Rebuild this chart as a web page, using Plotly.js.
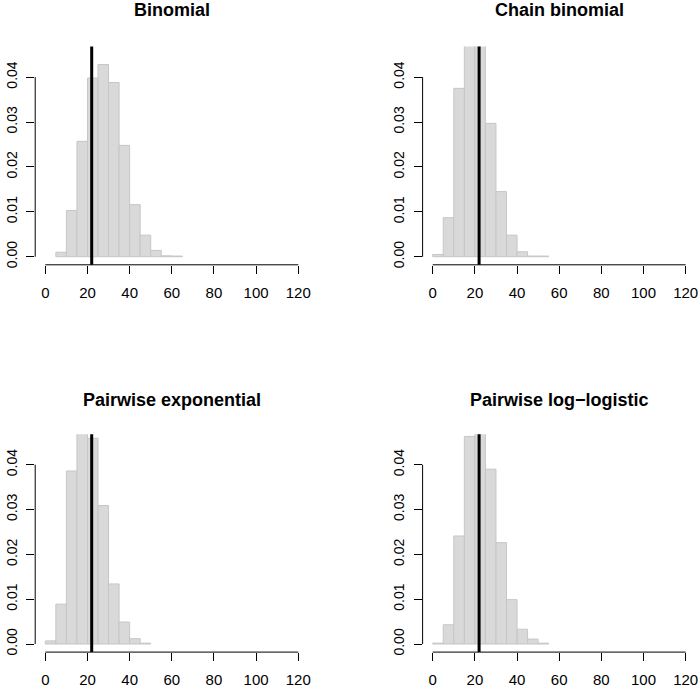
<!DOCTYPE html>
<html>
<head>
<meta charset="utf-8">
<script src="https://cdn.plot.ly/plotly-3.0.1.min.js"></script>
<style>html,body{margin:0;padding:0;background:#fff;}#chart{width:700px;height:688px;}</style>
</head>
<body>
<div id="chart"></div>
<script>
// Panel titles
const titles = ["Binomial", "Chain binomial", "Pairwise exponential", "Pairwise log\u2212logistic"];
// Histogram bin left edges (bin width 5) and densities per panel
const binomialStarts = [5, 10, 15, 20, 25, 30, 35, 40, 45, 50, 55, 60];
const binomialDensity = [0.001, 0.0103, 0.0257, 0.0398, 0.0428, 0.0388, 0.0248, 0.0116, 0.0048, 0.0014, 0.0002, 0.00015];
const chainStarts = [0, 5, 10, 15, 20, 25, 30, 35, 40, 45, 50];
const chainDensity = [0.0005, 0.0087, 0.0375, 0.055, 0.051, 0.0297, 0.0145, 0.0048, 0.0011, 0.00015, 0.00015];
const expStarts = [0, 5, 10, 15, 20, 25, 30, 35, 40, 45];
const expDensity = [0.0007, 0.0089, 0.0386, 0.052, 0.0459, 0.0309, 0.0134, 0.0049, 0.0012, 0.0002];
const loglogStarts = [0, 5, 10, 15, 20, 25, 30, 35, 40, 45, 50];
const loglogDensity = [0.0002, 0.0043, 0.0241, 0.0463, 0.0470, 0.039, 0.0226, 0.0099, 0.0033, 0.0011, 0.0002];
const binWidth = 5;
const observed = 22;
const xTicks = [0, 20, 40, 60, 80, 100, 120];
const yTicks = [0, 0.01, 0.02, 0.03, 0.04];

const panels = [
  {starts: binomialStarts, dens: binomialDensity},
  {starts: chainStarts, dens: chainDensity},
  {starts: expStarts, dens: expDensity},
  {starts: loglogStarts, dens: loglogDensity}
];

const W = 700, H = 688;
const colsPx = [[35.2, 308.4], [422.6, 695.8]];
const rowsPx = [[46.6, 264.8], [434.2, 652.1]];
const titleY = [10, 400];

const data = [];
const layout = {
  width: W, height: H,
  margin: {l: 0, r: 0, t: 0, b: 0},
  paper_bgcolor: '#fff', plot_bgcolor: '#fff',
  showlegend: false,
  font: {family: 'Liberation Sans, Arial, sans-serif', size: 15, color: '#000'},
  shapes: [], annotations: []
};

panels.forEach((p, i) => {
  const r = Math.floor(i / 2), c = i % 2;
  const xa = i === 0 ? 'x' : 'x' + (i + 1);
  const ya = i === 0 ? 'y' : 'y' + (i + 1);
  const xk = i === 0 ? 'xaxis' : 'xaxis' + (i + 1);
  const yk = i === 0 ? 'yaxis' : 'yaxis' + (i + 1);
  data.push({
    type: 'bar', x: p.starts, y: p.dens, width: binWidth, offset: 0,
    xaxis: xa, yaxis: ya,
    marker: {color: '#d9d9d9', line: {color: '#c6c6c6', width: 1}},
    hoverinfo: 'skip'
  });
  layout[xk] = {
    domain: [colsPx[c][0] / W, colsPx[c][1] / W],
    anchor: ya, range: [-4.8, 124.8],
    tickvals: xTicks, ticktext: xTicks.map(String),
    ticks: 'outside', ticklen: 8, tickwidth: 1, tickcolor: '#000',
    showline: false, showgrid: false, zeroline: false,
    tickfont: {size: 15}, ticklabelstandoff: 6
  };
  layout[yk] = {
    domain: [1 - rowsPx[r][1] / H, 1 - rowsPx[r][0] / H],
    anchor: xa, range: [-0.0018, 0.0468],
    tickvals: yTicks, ticktext: yTicks.map(v => v.toFixed(2)),
    ticks: 'outside', ticklen: 8, tickwidth: 1, tickcolor: '#000',
    tickangle: -90,
    showline: false, showgrid: false, zeroline: false,
    tickfont: {size: 14}, ticklabelstandoff: 4
  };
  // axis lines spanning first to last tick, R style
  layout.shapes.push({type: 'line', xref: xa, yref: ya + ' domain',
    x0: xTicks[0], x1: xTicks[xTicks.length - 1], y0: 0, y1: 0,
    line: {color: '#000', width: 1}});
  layout.shapes.push({type: 'line', xref: xa + ' domain', yref: ya,
    x0: 0, x1: 0, y0: yTicks[0], y1: yTicks[yTicks.length - 1],
    line: {color: '#000', width: 1}});
  // observed value line
  layout.shapes.push({type: 'line', xref: xa, yref: ya + ' domain',
    x0: observed, x1: observed, y0: 0, y1: 1,
    line: {color: '#000', width: 3}});
  layout.annotations.push({
    text: '<b>' + titles[i] + '</b>', showarrow: false,
    xref: 'paper', yref: 'paper',
    x: (colsPx[c][0] + colsPx[c][1]) / 2 / W, y: 1 - titleY[r] / H,
    xanchor: 'center', yanchor: 'middle',
    font: {size: 18, color: '#000'}
  });
});

Plotly.newPlot('chart', data, layout, {displayModeBar: false, staticPlot: true});
</script>
</body>
</html>
